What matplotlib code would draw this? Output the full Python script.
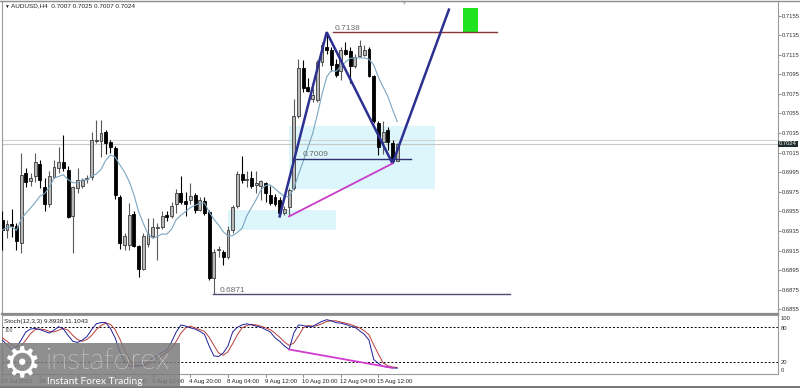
import matplotlib
matplotlib.use('Agg')
import matplotlib.pyplot as plt
import numpy as np
import pandas as pd
from matplotlib.patches import Rectangle

# ---------------- data ----------------
opens = [0.6946, 0.6936, 0.6942, 0.6940, 0.6923, 0.6994, 0.6986, 0.6991, 0.7003, 0.6980,
         0.6963, 0.6990, 0.6999, 0.7005, 0.6997, 0.6950, 0.6979, 0.6981, 0.6988, 0.6990,
         0.7027, 0.7027, 0.7036, 0.7026, 0.7020, 0.6970, 0.6921, 0.6921, 0.6952, 0.6920,
         0.6896, 0.6922, 0.6930, 0.6938, 0.6939, 0.6951, 0.6950, 0.6963, 0.6974, 0.6966,
         0.6967, 0.6972, 0.6957, 0.6966, 0.6954, 0.6887, 0.6916, 0.6914, 0.6909, 0.6936,
         0.6961, 0.6993, 0.6987, 0.6989, 0.6982, 0.6981, 0.6984, 0.6972, 0.6970, 0.6967,
         0.6953, 0.6960, 0.6979, 0.7052, 0.7101, 0.7082, 0.7070, 0.7069, 0.7108, 0.7123,
         0.7120, 0.7106, 0.7098, 0.7120, 0.7119, 0.7103, 0.7114, 0.7115, 0.7121, 0.7093,
         0.7045, 0.7026, 0.7038, 0.7025, 0.7007]
highs = [0.6956, 0.6946, 0.6958, 0.6943, 0.7015, 0.6999, 0.6994, 0.7015, 0.7008, 0.6989,
         0.6996, 0.7008, 0.7021, 0.7033, 0.7001, 0.6981, 0.6999, 0.6989, 0.6992, 0.7036,
         0.7048, 0.7048, 0.7038, 0.7028, 0.7022, 0.6972, 0.6933, 0.6964, 0.6956, 0.6921,
         0.6933, 0.6948, 0.6948, 0.6943, 0.6955, 0.6955, 0.6965, 0.6978, 0.6991, 0.6975,
         0.6984, 0.6974, 0.6970, 0.6970, 0.6957, 0.6917, 0.6920, 0.6916, 0.6940, 0.6962,
         0.6996, 0.7012, 0.6996, 0.6996, 0.6996, 0.6987, 0.6985, 0.6981, 0.6973, 0.6970,
         0.6961, 0.6979, 0.7070, 0.7111, 0.7110, 0.7091, 0.7081, 0.7110, 0.7128, 0.7138,
         0.7123, 0.7111, 0.7123, 0.7128, 0.7123, 0.7116, 0.7130, 0.7125, 0.7123, 0.7094,
         0.7047, 0.7047, 0.7041, 0.7028, 0.7025]
lows = [0.6916, 0.6928, 0.6929, 0.6916, 0.6913, 0.6980, 0.6981, 0.6985, 0.6979, 0.6956,
        0.6960, 0.6989, 0.6994, 0.6996, 0.6948, 0.6913, 0.6974, 0.6979, 0.6984, 0.6987,
        0.7025, 0.7011, 0.7014, 0.7015, 0.6968, 0.6917, 0.6916, 0.6916, 0.6919, 0.6888,
        0.6895, 0.6919, 0.6928, 0.6905, 0.6937, 0.6945, 0.6948, 0.6953, 0.6963, 0.6950,
        0.6963, 0.6953, 0.6955, 0.6951, 0.6885, 0.6871, 0.6909, 0.6900, 0.6907, 0.6933,
        0.6959, 0.6984, 0.6980, 0.6979, 0.6974, 0.6967, 0.6965, 0.6962, 0.6961, 0.6950,
        0.6951, 0.6950, 0.6977, 0.7050, 0.7077, 0.7077, 0.7067, 0.7067, 0.7103, 0.7116,
        0.7098, 0.7092, 0.7089, 0.7115, 0.7086, 0.7101, 0.7113, 0.7114, 0.7092, 0.7045,
        0.7013, 0.7014, 0.7018, 0.7004, 0.7007]
closes = [0.6936, 0.6942, 0.6940, 0.6925, 0.6992, 0.6985, 0.6989, 0.7005, 0.6987, 0.6963,
          0.6991, 0.7000, 0.7006, 0.6999, 0.6949, 0.6980, 0.6987, 0.6987, 0.6989, 0.7028,
          0.7028, 0.7035, 0.7025, 0.7021, 0.6972, 0.6923, 0.6930, 0.6951, 0.6920, 0.6896,
          0.6930, 0.6932, 0.6939, 0.6939, 0.6950, 0.6949, 0.6961, 0.6974, 0.6965, 0.6963,
          0.6971, 0.6957, 0.6967, 0.6953, 0.6887, 0.6914, 0.6917, 0.6909, 0.6936, 0.6960,
          0.6993, 0.6987, 0.6988, 0.6981, 0.6984, 0.6986, 0.6974, 0.6964, 0.6963, 0.6953,
          0.6958, 0.6977, 0.7052, 0.7101, 0.7081, 0.7078, 0.7074, 0.7108, 0.7125, 0.7120,
          0.7104, 0.7094, 0.7120, 0.7116, 0.7103, 0.7113, 0.7124, 0.7120, 0.7093, 0.7047,
          0.7021, 0.7036, 0.7026, 0.7007, 0.7024]

stoch_k = [58, 50, 42, 46, 58, 72, 77, 78, 76, 73, 70, 75, 81, 77, 66, 56, 54, 58, 64, 76,
           86, 88, 88, 78, 62, 38, 22, 14, 13, 14, 15, 20, 27, 32, 37, 41, 55, 72, 84, 82,
           79, 77, 73, 68, 48, 31, 30, 36, 48, 72, 80, 84, 86, 84, 82, 80, 76, 72, 62, 56,
           48, 42, 70, 84, 83, 81, 81, 86, 90, 93, 91, 88, 87, 85, 82, 80, 74, 68, 58, 25,
           18, 13, 11.5, 10.5, 9.89]
stoch_d = [62, 56, 50, 46, 48, 58, 69, 76, 77, 76, 73, 72, 75, 78, 75, 66, 59, 56, 59, 66,
           76, 83, 87, 85, 76, 60, 41, 25, 16, 14, 14, 16, 21, 26, 32, 37, 44, 56, 70, 79,
           82, 79, 76, 73, 63, 49, 36, 32, 38, 52, 67, 79, 83, 85, 84, 82, 79, 76, 70, 63,
           55, 49, 53, 65, 79, 83, 82, 83, 86, 90, 91, 91, 89, 87, 85, 82, 79, 74, 67, 50,
           34, 19, 14, 12, 11.1]

price_ticks = [0.6855, 0.6875, 0.6895, 0.6915, 0.6935, 0.6955, 0.6975, 0.6995, 0.7015,
               0.7035, 0.7055, 0.7075, 0.7095, 0.7115, 0.7135, 0.7155]
time_label_idx = [0, 8, 16, 24, 32, 40, 48, 56, 64, 72, 80]
time_labels = ["27 Jul 2022", "28 Jul 12:00", "29 Jul 20:00", "2 Aug 04:00", "3 Aug 12:00",
               "4 Aug 20:00", "8 Aug 04:00", "9 Aug 12:00", "10 Aug 20:00", "12 Aug 04:00",
               "15 Aug 12:00"]

# annotations (bar index, price)
zigzag_idx = [59, 69, 83, 95]
zigzag_price = [0.6950, 0.7138, 0.7004, 0.7161]
diverg_idx = [61, 83]
diverg_price = [0.6950, 0.7004]
stoch_div_idx = [61, 83]
level_prices = [0.7138, 0.7009, 0.6871]
level_start = [70.4, 62.5, 44.9]
level_end = [105.2, 87.0, 108.0]
level_colors = ['#8b3535', '#2d2f6e', '#4d4d72']
zone_upper = (61.0, 92.1, 0.6978, 0.7042)
zone_lower = (48.1, 71.0, 0.6936, 0.6957)
target_box = (98.1, 101.1, 0.7137, 0.7163)
bid, ask = 0.7024, 0.7028

FONT = 'Liberation Sans'
plt.rcParams['font.family'] = [FONT, 'DejaVu Sans']

W, H = 800, 388
fig = plt.figure(figsize=(8, 3.88), dpi=100)
fig.patch.set_facecolor('white')


def box(l, t, r, b):
    return [l / W, 1 - b / H, (r - l) / W, (b - t) / H]


ax = fig.add_axes(box(2, 1, 778, 314))
ax2 = fig.add_axes(box(2, 315, 778, 374))

XMIN, XMAX = -0.064, 165.0
ax.set_xlim(XMIN, XMAX)
ax.set_ylim(0.68504, 0.71698)
ax2.set_xlim(XMIN, XMAX)
ax2.set_ylim(0, 101)

# zones
for (x0, x1, p0, p1) in [zone_upper, zone_lower]:
    ax.add_patch(Rectangle((x0, p0), x1 - x0, p1 - p0, facecolor='#dcf6fb',
                           edgecolor='none', zorder=1))
gx0, gx1, gp0, gp1 = target_box
ax.add_patch(Rectangle((gx0, gp0), gx1 - gx0, gp1 - gp0, facecolor='#1ee31e',
                       edgecolor='none', zorder=2))

# bid/ask lines
ax.axhline(bid, color='#c8c8c8', lw=0.8, zorder=1.5)
ax.axhline(ask, color='#d4d4d4', lw=0.8, zorder=1.5)

# candles
o = np.array(opens); h = np.array(highs); l = np.array(lows); c = np.array(closes)
x = np.arange(len(o))
bull = c >= o
ax.vlines(x[bull], l[bull], h[bull], color='#5a5a5a', lw=0.8, zorder=3)
ax.vlines(x[~bull], l[~bull], h[~bull], color='black', lw=0.8, zorder=3)
body_lo = np.minimum(o, c)
body_h = np.maximum(np.abs(c - o), 0.00004)
ax.bar(x[bull], body_h[bull], bottom=body_lo[bull], width=0.62, color='#b8b8b8',
       edgecolor='#3a3a3a', linewidth=0.6, zorder=4)
ax.bar(x[~bull], body_h[~bull], bottom=body_lo[~bull], width=0.62, color='black',
       edgecolor='black', linewidth=0.6, zorder=4)

# moving average
ma = pd.Series(closes).rolling(8, min_periods=1).mean()
ax.plot(x, ma, color='#7aa6c2', lw=0.8, zorder=5)

# levels
for p, s, e, col in zip(level_prices, level_start, level_end, level_colors):
    ax.plot([s, e], [p, p], color=col, lw=1.0, zorder=5)
ax.text(level_start[0] + 0.3, level_prices[0] + 0.00022, '0.7138', fontsize=6,
        color='#6a6a6a', zorder=7)
ax.text(level_start[1] + 1.3, level_prices[1] + 0.00022, '0.7009', fontsize=6,
        color='#6a6a6a', zorder=7)
ax.text(level_start[2] + 1.4, level_prices[2] + 0.00022, '0.6871', fontsize=6,
        color='#6a6a6a', zorder=7)

# zigzag & divergence
ax.plot(zigzag_idx, zigzag_price, color='#2c3090', lw=1.8, zorder=6,
        solid_joinstyle='miter')
ax.plot(diverg_idx, diverg_price, color='#c83cc8', lw=1.3, zorder=6)

# axis styling
ax.yaxis.tick_right()
ax.set_yticks(price_ticks)
ax.set_yticklabels(['%.4f' % v for v in price_ticks])
ax.tick_params(axis='y', labelsize=4.2, length=2, width=0.6, color='#808080',
               labelcolor='#333333', pad=1.0)
ax.set_xticks([])
for sp in ['left', 'right', 'top']:
    ax.spines[sp].set_color('#9a9a9a')
    ax.spines[sp].set_linewidth(0.8)
ax.spines['bottom'].set_color('#8a8a8a')
ax.spines['bottom'].set_linewidth(1.6)

# current price box
ax.text(1.0015, bid, '%.4f' % bid, transform=ax.get_yaxis_transform(), fontsize=4.2,
        color='white', va='center', ha='left', zorder=10,
        bbox=dict(boxstyle='square,pad=0.12', facecolor='#1e2e2e', edgecolor='none'),
        clip_on=False)

# title
fig.text(4 / W, 1 - 6 / H, '\u25BC', fontsize=3.5, color='#222222', va='center')
fig.text(11 / W, 1 - 6 / H, 'AUDUSD,H4  0.7007 0.7025 0.7007 0.7024', fontsize=4.6,
         color='#222222', va='center')
fig.text(403 / W, 1 - 3 / H, '\u25BC', fontsize=3.5, color='#b0b0b0', va='center',
         ha='center')

# ---------------- stochastic ----------------
k = np.array(stoch_k); d = np.array(stoch_d)
ax2.plot(x, d, color='#b83c3c', lw=0.7, zorder=3)
ax2.plot(x, k, color='#20209a', lw=0.7, zorder=4)
for lv in (20, 80):
    ax2.axhline(lv, color='black', lw=0.7, ls=(0, (2, 2)), zorder=2)
ax2.plot(stoch_div_idx, [k[i] for i in stoch_div_idx], color='#d03cd0', lw=1.3, zorder=5)
ax2.set_xticks([]); ax2.set_yticks([])
for sp in ax2.spines.values():
    sp.set_color('#9a9a9a'); sp.set_linewidth(0.8)
ax2.text(0.003, 0.93, 'Stoch(12,3,3) 9.8938 11.1043', transform=ax2.transAxes,
         fontsize=4.6, color='#222222', va='top')
ax2.text(0.003, 0.78, '100', transform=ax2.transAxes, fontsize=3.6, color='#555555',
         va='top')
for lab, ypx in [('100', 319), ('80', 328), ('20', 362), ('0', 370.5)]:
    fig.text(781 / W, 1 - ypx / H, lab, fontsize=4.2, color='#333333', va='center')

# time labels
for i, lab in zip(time_label_idx, time_labels):
    ax2.text(i - 0.2, -0.08, lab, transform=ax2.get_xaxis_transform(), fontsize=4.3,
             color='#222222', ha='left', va='top', clip_on=False)
    ax2.plot([i, i], [0, -0.05], transform=ax2.get_xaxis_transform(), color='#808080',
             lw=0.6, clip_on=False)

# borders
fig.add_artist(plt.Line2D([0, 1], [1 - 386.5 / H] * 2, color='#606060', lw=1.2))
fig.add_artist(plt.Line2D([0, 1], [1 - 0.5 / H] * 2, color='#909090', lw=1.0))

# ---------------- watermark ----------------
fig.patches.append(Rectangle((0, 0), 180 / W, (388 - 343) / H, transform=fig.transFigure,
                             facecolor='#7c7c7c', edgecolor='none', alpha=0.85, zorder=20))
fig.text(22 / W, 1 - 364 / H, '\u2699', fontsize=31, color='white', ha='center',
         va='center', family='DejaVu Sans', zorder=21)
fig.text(46 / W, 1 - 361 / H, 'instaforex', fontsize=21.5, color='white', ha='left',
         va='center', family='Lato', fontweight='light', zorder=21)
fig.text(47 / W, 1 - 381 / H, 'Instant Forex Trading', fontsize=7.3, color='white',
         ha='left', va='center', family='Lato', zorder=21)

fig.savefig('out.png', dpi=100)
